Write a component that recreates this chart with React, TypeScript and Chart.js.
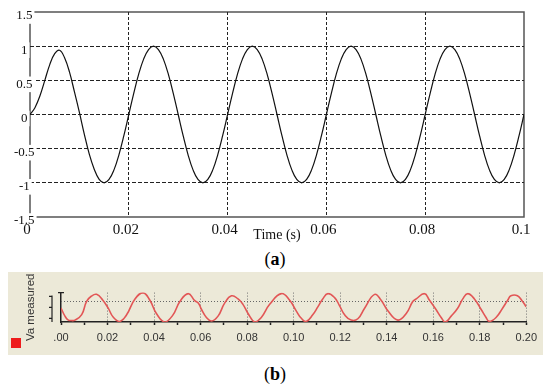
import React, { useEffect, useRef } from 'react';
import { Chart, registerables } from 'chart.js';

Chart.register(...registerables);

// ---------- Panel (a): simulated voltage ----------
const aTimeMs = [
  0, 1, 2, 3, 4, 5, 6, 7, 8, 9, 10, 11, 12, 13, 14, 15, 16, 17, 18, 19,
  20, 21, 22, 23, 24, 25, 26, 27, 28, 29, 30, 31, 32, 33, 34, 35, 36, 37, 38, 39,
  40, 41, 42, 43, 44, 45, 46, 47, 48, 49, 50, 51, 52, 53, 54, 55, 56, 57, 58, 59,
  60, 61, 62, 63, 64, 65, 66, 67, 68, 69, 70, 71, 72, 73, 74, 75, 76, 77, 78, 79,
  80, 81, 82, 83, 84, 85, 86, 87, 88, 89, 90, 91, 92, 93, 94, 95, 96, 97, 98, 99, 100,
];
const aVoltage = [
  0, 0.1, 0.27, 0.5, 0.73, 0.89, 0.94, 0.83, 0.62, 0.33, 0.03, -0.29, -0.58, -0.8, -0.95, -1, -0.95, -0.81, -0.59, -0.31,
  0, 0.31, 0.59, 0.81, 0.95, 1, 0.95, 0.81, 0.59, 0.31, 0, -0.31, -0.59, -0.81, -0.95, -1, -0.95, -0.81, -0.59, -0.31,
  0, 0.31, 0.59, 0.81, 0.95, 1, 0.95, 0.81, 0.59, 0.31, 0, -0.31, -0.59, -0.81, -0.95, -1, -0.95, -0.81, -0.59, -0.31,
  0, 0.31, 0.59, 0.81, 0.95, 1, 0.95, 0.81, 0.59, 0.31, 0, -0.31, -0.59, -0.81, -0.95, -1, -0.95, -0.81, -0.59, -0.31,
  0, 0.31, 0.59, 0.81, 0.95, 1, 0.95, 0.81, 0.59, 0.31, 0, -0.31, -0.59, -0.81, -0.95, -1, -0.95, -0.81, -0.59, -0.31, 0,
];
const aXTickLabels = ['0', '0.02', '0.04', '0.06', '0.08', '0.1'];
const aYTickLabels = ['-1.5', '-1', '-0.5', '0', '0.5', '1', '1.5'];
const aXTitle = 'Time (s)';

// ---------- Panel (b): measured voltage ----------
const bTime = [
  0, 0.0017, 0.003, 0.0045, 0.006, 0.0089, 0.011, 0.013, 0.0153, 0.018,
  0.0203, 0.0225, 0.0253, 0.0282, 0.0318, 0.0353, 0.0382, 0.041, 0.0446, 0.048,
  0.0511, 0.0547, 0.0575, 0.059, 0.0604, 0.0625, 0.0647, 0.0675, 0.0704, 0.0733,
  0.0761, 0.0782, 0.0804, 0.0833, 0.0861, 0.0897, 0.0947, 0.0983, 0.1011, 0.1033,
  0.1054, 0.1082, 0.1104, 0.1125, 0.1147, 0.1176, 0.1197, 0.1219, 0.1247, 0.1276,
  0.1305, 0.1348, 0.1376, 0.1405, 0.1448, 0.1484, 0.1512, 0.1527, 0.1562, 0.1584,
  0.1612, 0.1634, 0.1652, 0.1677, 0.1705, 0.1727, 0.1748, 0.1777, 0.1806, 0.1827,
  0.1841, 0.187, 0.1898, 0.192, 0.1934, 0.1962, 0.1984, 0.2,
];
const bVa = [
  -0.05, -0.6, -0.85, -0.9, -0.87, -0.5, 0.4, 0.75, 0.88, 0.48,
  -0.06, -0.68, -0.96, -0.51, 0.57, 0.98, 0.48, -0.42, -1.0, -0.55,
  0.39, 0.93, 0.45, 0.3, -0.15, -0.69, -0.93, -0.6, 0.3, 0.78,
  0.57, 0.2, -0.42, -1.0, -0.69, 0.2, 0.93, 0.48, -0.24, -0.75,
  -0.96, -0.51, 0.03, 0.57, 0.93, 0.66, 0.12, -0.51, -0.87, -0.78,
  -0.06, 0.88, 0.48, -0.24, -0.87, -0.42, 0.39, 0.57, 0.93, 0.48,
  -0.15, -0.69, -1.0, -0.6, -0.06, 0.57, 0.93, 0.57, -0.15, -0.69,
  -0.96, -0.69, -0.06, 0.48, 0.78, 0.78, 0.39, 0.03,
];
const bXTickLabels = ['.00', '0.02', '0.04', '0.06', '0.08', '0.10', '0.12', '0.14', '0.16', '0.18', '0.20'];
const bYTickLabels = ['', '', '0', '', ''];
const bYTitle = 'Va measured';
const bRefLevel = 0.4;
const bLadderTicks = [-0.75, 0, 0.75];

const SERIF = '"Liberation Serif", "Times New Roman", serif';
const SANS = '"Liberation Sans", Arial, sans-serif';

const frameA = {
  id: 'frameA',
  beforeDraw(chart: any) {
    const { ctx, chartArea: a } = chart;
    ctx.save();
    ctx.strokeStyle = '#555';
    ctx.lineWidth = 1.5;
    ctx.strokeRect(a.left, a.top, a.right - a.left, a.bottom - a.top);
    ctx.restore();
  },
};

const decoB = {
  id: 'decoB',
  beforeDatasetsDraw(chart: any) {
    const { ctx, chartArea: a } = chart;
    const ys = chart.scales.y;
    ctx.save();
    const yr = Math.round(ys.getPixelForValue(bRefLevel)) + 0.5;
    ctx.strokeStyle = '#666';
    ctx.lineWidth = 1;
    ctx.setLineDash([1, 2]);
    ctx.beginPath();
    ctx.moveTo(a.left, yr);
    ctx.lineTo(a.right, yr);
    ctx.stroke();
    ctx.setLineDash([]);
    ctx.strokeStyle = '#222';
    ctx.lineWidth = 1.2;
    const lx = a.left - 9;
    ctx.beginPath();
    ctx.moveTo(lx, a.top + 3);
    ctx.lineTo(lx, a.bottom);
    bLadderTicks.forEach((v) => {
      const y = ys.getPixelForValue(v);
      ctx.moveTo(lx - 3, y);
      ctx.lineTo(lx, y);
    });
    ctx.moveTo(a.left - 3, a.top);
    ctx.lineTo(a.left + 3, a.top);
    ctx.stroke();
    ctx.restore();
  },
};

export default function App() {
  const refA = useRef<HTMLCanvasElement>(null);
  const refB = useRef<HTMLCanvasElement>(null);

  useEffect(() => {
    const chartA = new Chart(refA.current as HTMLCanvasElement, {
      type: 'line',
      data: {
        datasets: [
          {
            data: aTimeMs.map((t, i) => ({ x: t / 1000, y: aVoltage[i] })),
            borderColor: '#111',
            borderWidth: 1.2,
            pointRadius: 0,
            tension: 0.4,
            fill: false,
          },
        ],
      },
      options: {
        animation: false,
        responsive: false,
        maintainAspectRatio: false,
        layout: { padding: { top: 12, right: 26, bottom: 0, left: 0 } },
        plugins: { legend: { display: false }, tooltip: { enabled: false } },
        scales: {
          x: {
            type: 'linear',
            min: 0,
            max: 0.1,
            afterFit: (s: any) => {
              s.height = 28;
            },
            ticks: {
              stepSize: 0.02,
              callback: (_v: any, i: number) => aXTickLabels[i],
              font: { family: SERIF, size: 15 },
              color: '#111',
              padding: 4,
              labelOffset: -3,
              maxRotation: 0,
              autoSkip: false,
            },
            grid: {
              color: (c: any) => (c.tick && c.tick.value > 0.001 && c.tick.value < 0.099 ? '#222' : 'rgba(0,0,0,0)'),
              drawTicks: false,
              lineWidth: 1,
              borderDash: [3, 2],
            },
            border: { display: false, dash: [3, 2] },
            title: {
              display: true,
              text: aXTitle,
              font: { family: SERIF, size: 14 },
              color: '#111',
              padding: { top: 0, bottom: 1 },
            },
          },
          y: {
            type: 'linear',
            min: -1.5,
            max: 1.5,
            afterFit: (s: any) => {
              s.width = 30;
            },
            ticks: {
              stepSize: 0.5,
              callback: (_v: any, i: number) => aYTickLabels[i],
              font: { family: SERIF, size: 13 },
              color: '#111',
              mirror: true,
              crossAlign: 'center',
              padding: -16,
              labelOffset: 4,
              showLabelBackdrop: true,
              backdropColor: '#ffffff',
              backdropPadding: { top: 0, bottom: 0, left: 2, right: 2 },
              z: -0.5,
            },
            grid: {
              color: (c: any) => (c.tick && Math.abs(c.tick.value) < 1.4 ? '#222' : 'rgba(0,0,0,0)'),
              drawTicks: false,
              lineWidth: 1,
              borderDash: [4, 2],
            },
            border: { display: false, dash: [4, 2] },
          },
        },
      } as any,
      plugins: [frameA],
    });

    const chartB = new Chart(refB.current as HTMLCanvasElement, {
      type: 'line',
      data: {
        datasets: [
          {
            data: bTime.map((t, i) => ({ x: t, y: bVa[i] })),
            borderColor: 'rgb(226, 86, 86)',
            borderWidth: 1.6,
            pointRadius: 0,
            tension: 0.45,
            fill: false,
          },
        ],
      },
      options: {
        animation: false,
        responsive: false,
        maintainAspectRatio: false,
        layout: { padding: { top: 13, right: 16, bottom: 0, left: 0 } },
        plugins: { legend: { display: false }, tooltip: { enabled: false } },
        scales: {
          x: {
            type: 'linear',
            min: 0,
            max: 0.2,
            afterFit: (s: any) => {
              s.height = 33;
            },
            ticks: {
              stepSize: 0.01,
              callback: (_v: any, i: number) => (i % 2 === 0 ? bXTickLabels[i / 2] : ''),
              font: { family: SANS, size: 11 },
              color: '#333',
              padding: 6,
              maxRotation: 0,
              autoSkip: false,
            },
            grid: {
              color: (c: any) => (c.index % 2 === 0 && c.index > 0 ? '#707070' : 'rgba(0,0,0,0)'),
              tickColor: '#222',
              tickLength: 3,
              tickWidth: 1.5,
              drawTicks: true,
              lineWidth: 1,
              borderDash: [1, 2],
            },
            border: { display: true, color: '#222', width: 1.5, dash: [1, 2] },
          },
          y: {
            type: 'linear',
            min: -1,
            max: 1,
            afterFit: (s: any) => {
              s.width = 53;
            },
            ticks: {
              stepSize: 0.5,
              callback: (_v: any, i: number) => bYTickLabels[i],
              font: { family: SANS, size: 11 },
              color: '#333',
              padding: 14,
            },
            grid: { drawOnChartArea: false, drawTicks: false },
            border: { display: true, color: '#222', width: 1.5 },
            title: {
              display: true,
              text: bYTitle,
              font: { family: SANS, size: 11.5 },
              color: '#333',
              padding: { top: 16, bottom: 0 },
            },
          },
        },
      } as any,
      plugins: [decoB],
    });

    return () => {
      chartA.destroy();
      chartB.destroy();
    };
  }, []);

  return (
    <div style={{ position: 'absolute', left: 0, top: 0, width: 550, height: 390, background: '#fff', overflow: 'hidden' }}>
      <canvas ref={refA} width={550} height={245} style={{ position: 'absolute', left: 0, top: 0, width: 550, height: 245 }} />
      <div
        style={{
          position: 'absolute',
          left: 0,
          top: 248,
          width: 550,
          textAlign: 'center',
          fontFamily: SERIF,
          fontSize: 18,
          lineHeight: '22px',
          color: '#000',
        }}
      >
        (<b>a</b>)
      </div>
      <div style={{ position: 'absolute', left: 8, top: 272, width: 535, height: 83, background: '#ece9d8' }}>
        <canvas ref={refB} width={535} height={83} style={{ position: 'absolute', left: 0, top: 0, width: 535, height: 83 }} />
        <div style={{ position: 'absolute', left: 3, top: 66, width: 10, height: 10, background: '#ee1c1c' }} />
      </div>
      <div
        style={{
          position: 'absolute',
          left: 0,
          top: 363,
          width: 550,
          textAlign: 'center',
          fontFamily: SERIF,
          fontSize: 18,
          lineHeight: '22px',
          color: '#000',
        }}
      >
        (<b>b</b>)
      </div>
    </div>
  );
}
